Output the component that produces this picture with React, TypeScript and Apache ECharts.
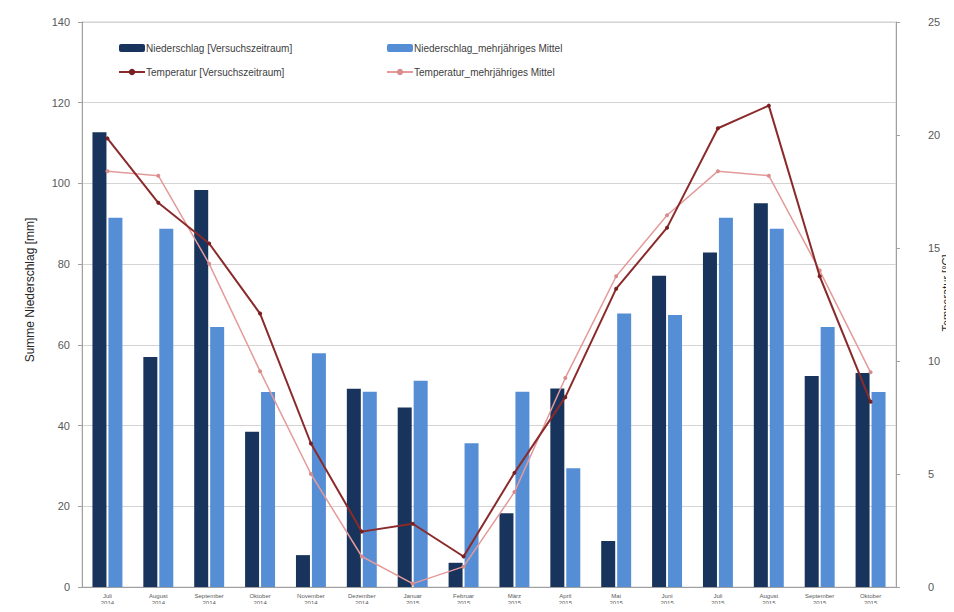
import React, { useEffect, useRef } from "react";
import * as echarts from "echarts";

const months = ["Juli", "August", "September", "Oktober", "November", "Dezember", "Januar", "Februar", "März", "April", "Mai", "Juni", "Juli", "August", "September", "Oktober"];
const years = ["2014", "2014", "2014", "2014", "2014", "2014", "2015", "2015", "2015", "2015", "2015", "2015", "2015", "2015", "2015", "2015"];
const niederschlagVersuch = [112.7, 57, 98.4, 38.5, 7.9, 49.1, 44.5, 6.0, 18.3, 49.2, 11.4, 77.1, 82.9, 95.1, 52.3, 53];
const niederschlagMittel = [91.5, 88.8, 64.4, 48.3, 57.9, 48.4, 51.1, 35.6, 48.4, 29.4, 67.8, 67.4, 91.5, 88.8, 64.4, 48.3];
const temperaturVersuch = [19.85, 17.0, 15.2, 12.1, 6.35, 2.45, 2.8, 1.35, 5.05, 8.4, 13.2, 15.9, 20.3, 21.3, 13.75, 8.2];
const temperaturMittel = [18.4, 18.2, 14.3, 9.55, 5.0, 1.35, 0.15, 0.9, 4.2, 9.25, 13.75, 16.45, 18.4, 18.2, 14.0, 9.5];
const leftTicks = [0, 140, 20];
const rightTicks = [0, 25, 5];

const FONT = "Liberation Sans, Arial, sans-serif";

export default function App() {
  const ref = useRef<HTMLDivElement>(null);
  useEffect(() => {
    if (!ref.current) return;
    const chart = echarts.init(ref.current, null, { renderer: "svg" });
    const categories = months.map((m, i) => m + "\n" + years[i]);
    const names = [
      "Niederschlag [Versuchszeitraum]",
      "Niederschlag_mehrjähriges Mittel",
      "Temperatur [Versuchszeitraum]",
      "Temperatur_mehrjähriges Mittel",
    ];
    const legendText = { fontSize: 10, color: "#404040", fontFamily: FONT, padding: [0, 0, 0, -4] };
    chart.setOption({
      animation: false,
      backgroundColor: "#ffffff",
      textStyle: { fontFamily: FONT },
      grid: { left: 82, right: 58, top: 22, bottom: 25, show: true, borderColor: "#d0d0d0", borderWidth: 1 },
      legend: [
        {
          data: [names[0], names[2]],
          orient: "vertical",
          left: 113,
          top: 38,
          itemGap: 14,
          itemWidth: 26,
          itemHeight: 8,
          textStyle: legendText,
        },
        {
          data: [names[1], names[3]],
          orient: "vertical",
          left: 381,
          top: 38,
          itemGap: 14,
          itemWidth: 26,
          itemHeight: 8,
          textStyle: legendText,
        },
      ],
      xAxis: {
        type: "category",
        data: categories,
        axisLine: { lineStyle: { color: "#a0a0a0" } },
        axisTick: { lineStyle: { color: "#a0a0a0" }, length: 4 },
        axisLabel: { fontSize: 6, lineHeight: 7, color: "#595959", margin: 5, interval: 0 },
      },
      yAxis: [
        {
          type: "value",
          min: leftTicks[0],
          max: leftTicks[1],
          interval: leftTicks[2],
          axisLine: { show: true, lineStyle: { color: "#a0a0a0" } },
          axisTick: { show: true, inside: false, length: 4, lineStyle: { color: "#a0a0a0" } },
          axisLabel: { fontSize: 11, color: "#595959", margin: 12 },
          splitLine: { lineStyle: { color: "#d4d4d4", width: 1 } },
        },
        {
          type: "value",
          min: rightTicks[0],
          max: rightTicks[1],
          interval: rightTicks[2],
          position: "right",
          axisLine: { show: true, lineStyle: { color: "#a0a0a0" } },
          axisTick: { show: true, length: 4, lineStyle: { color: "#a0a0a0" } },
          axisLabel: { fontSize: 11, color: "#595959", margin: 32 },
          splitLine: { show: false },
        },
      ],
      graphic: [
        {
          type: "text",
          x: 30,
          y: 290,
          rotation: Math.PI / 2,
          style: { text: "Summe Niederschlag [mm]", fontSize: 12, fill: "#262626", fontFamily: FONT, textAlign: "center", textVerticalAlign: "middle" },
        },
        {
          type: "text",
          x: 946,
          y: 293,
          rotation: Math.PI / 2,
          style: { text: "Temperatur [°C]", fontSize: 11, fill: "#262626", fontFamily: FONT, textAlign: "center", textVerticalAlign: "middle" },
        },
        {
          type: "rect",
          shape: { x: 1.5, y: 1.5, width: 951, height: 609 },
          style: { fill: "none", stroke: "#d9d9d9", lineWidth: 1 },
          silent: true,
        },
      ],
      series: [
        {
          name: names[0],
          type: "bar",
          data: niederschlagVersuch,
          barWidth: 14,
          barGap: "14%",
          itemStyle: { color: "#18345C" },
        },
        {
          name: names[1],
          type: "bar",
          data: niederschlagMittel,
          barWidth: 14,
          itemStyle: { color: "#558ED5" },
        },
        {
          name: names[2],
          type: "line",
          yAxisIndex: 1,
          data: temperaturVersuch,
          symbol: "circle",
          symbolSize: 4,
          lineStyle: { color: "#8B2A2A", width: 2 },
          itemStyle: { color: "#7A1E1E" },
          z: 5,
        },
        {
          name: names[3],
          type: "line",
          yAxisIndex: 1,
          data: temperaturMittel,
          symbol: "circle",
          symbolSize: 4,
          lineStyle: { color: "#E49A9A", width: 1.5 },
          itemStyle: { color: "#D98C8C" },
          z: 4,
        },
      ],
    });
    return () => chart.dispose();
  }, []);
  return (
    <div style={{ width: 954, height: 612, margin: -8, position: "relative" }}>
      <div ref={ref} style={{ width: 954, height: 612 }} />
    </div>
  );
}
